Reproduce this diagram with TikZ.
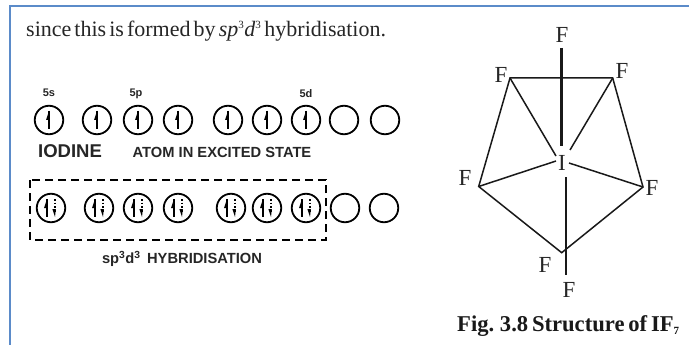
\documentclass[tikz,border=0pt]{standalone}
\usepackage{fontspec}
\setmainfont{Liberation Serif}
\newfontfamily\lsans{Liberation Sans}
\tikzset{
 x=1pt,y=-1pt,
 orb/.style={circle,draw=black,line width=1.8pt,minimum size=28.5pt,inner sep=0pt},
 elem/.style={font=\fontsize{23}{23}\selectfont,inner sep=0pt,text=black!85},
 bond/.style={line width=1.5pt,black!90},
 lab/.style={font=\lsans\bfseries\fontsize{14.7}{15}\selectfont,inner sep=0pt,text=black!85},
 smalllab/.style={font=\lsans\bfseries\fontsize{11}{11}\selectfont,inner sep=0pt,text=black!85},
 up/.style={line width=1.8pt},
 dn/.style={line width=1.4pt,dash pattern=on 1.8pt off 1.8pt},
}
\newcommand{\single}[2]{\draw[up] (#1,#2-9) -- (#1,#2+9); \fill (#1,#2-9) -- (#1-3,#2+0) -- (#1+.8,#2) -- cycle;}
\newcommand{\paired}[2]{\draw[up] (#1-4,#2-9) -- (#1-4,#2+9); \fill (#1-4,#2-9) -- (#1-7,#2) -- (#1-3.2,#2) -- cycle;
 \draw[dn] (#1+4,#2-9) -- (#1+4,#2+4); \fill (#1+4,#2+9) -- (#1+1.4,#2+1) -- (#1+4.8,#2+1) -- cycle;}
\begin{document}
\begin{tikzpicture}
\useasboundingbox (0,0) rectangle (689,345);
\fill[white] (0,0) rectangle (689,345);
\definecolor{framec}{RGB}{91,139,201}
\coordinate (fa) at (10,345);
\coordinate (fb) at (10,6);
\coordinate (fc) at (689,6);
\draw[framec,line width=2.8pt] (fa) -- (fb) -- (fc);
\node[anchor=base west,inner sep=0pt,font=\fontsize{22}{22}\selectfont,text=black!85] (cap) at (26,36.5) {\spaceskip=0.14em since this is formed by \textit{sp}\textsuperscript{\fontsize{11}{11}\selectfont 3}\textit{d}\textsuperscript{\fontsize{11}{11}\selectfont 3} hybridisation.};
\foreach \n/\x in {a/49,b/97,c/138,d/178,e/228,f/267,g/306,h/344,i/385}{
  \node[orb] (r\n) at (\x,120) {};
}
\foreach \x in {49,97,138,178,228,267,306}{\single{\x}{120}}
\foreach \n/\x in {a/51,b/99,c/138,d/178,e/231,f/267,g/306,h/345,i/384}{
  \node[orb] (s\n) at (\x,208) {};
}
\foreach \x in {51,99,138,178,231,267,306}{\paired{\x}{208}}
\node[smalllab] (l5s) at (49,93) {5s};
\node[smalllab] (l5p) at (136,94) {5p};
\node[smalllab] (l5d) at (306,94) {5d};
\node[lab,font=\lsans\bfseries\fontsize{18.5}{19}\selectfont] (iod) at (70,151) {IODINE};
\node[lab] (atom) at (222,152) {ATOM IN EXCITED STATE};
\node[lab] (hyb) at (182,259) {sp\textsuperscript{3}d\textsuperscript{3}\, HYBRIDISATION};
\draw[line width=1.3pt,dash pattern=on 8pt off 5pt] (30,180) rectangle (326,240);
% structure
\node[elem] (Ftop) at (562,35) {F};
\node[elem] (Ftl) at (501,75) {F};
\node[elem] (Ftr) at (622,71) {F};
\node[elem] (Fl) at (465,178) {F};
\node[elem] (Fr) at (652,188) {F};
\node[elem] (Fbl) at (545,265) {F};
\node[elem] (Fb) at (569,290) {F};
\node[elem] (I) at (562,163) {I};
\coordinate (vtl) at (510,78);
\coordinate (vtr) at (612.7,78);
\coordinate (vl) at (478.7,186.5);
\coordinate (vr) at (643,187);
\coordinate (vb) at (561.7,252.7);
\coordinate (axt) at (561.5,48);
\coordinate (axb) at (561.5,146);
\coordinate (lot) at (566,177);
\coordinate (lob) at (566,275);
\draw[bond] (vtl) -- (vtr) -- (vr) -- (vb) -- (vl) -- cycle;
\draw[bond,line width=2.1pt] (axt) -- (axb);
\draw[bond,line width=1.2pt] (lot) -- (lob);
\draw[bond] (vtl) -- (556,156);
\draw[bond] (vtr) -- (570,150);
\draw[bond] (vl) -- (556,161);
\draw[bond] (vr) -- (569,163);
\node[anchor=base west,inner sep=0pt,font=\bfseries\fontsize{22.6}{22.6}\selectfont,text=black!90] (title) at (457,331) {\spaceskip=0.17em Fig. 3.8 Structure of IF\textsubscript{\fontsize{11}{11}\selectfont 7}};
\end{tikzpicture}
\end{document}
